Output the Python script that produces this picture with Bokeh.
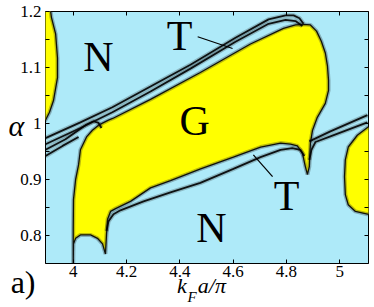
from bokeh.plotting import figure
from bokeh.models import (ColumnDataSource, FixedTicker, LinearAxis,
                          CustomJSTickFormatter, Range1d)
from bokeh.core.properties import value
from bokeh.embed import file_html
from bokeh.resources import INLINE

# ---------------- data ----------------
x_ticks = [4.0, 4.2, 4.4, 4.6, 4.8, 5.0]
y_ticks = [0.8, 0.9, 1.0, 1.1, 1.2]
y_minor = [0.75, 0.85, 0.95, 1.05, 1.15]

# central G (yellow) region boundary
g_x = [4.000, 4.000, 4.001, 4.009, 4.020, 4.027, 4.050, 4.072, 4.095, 4.132,
       4.148, 4.290, 4.477, 4.665, 4.789, 4.834, 4.864, 4.890, 4.913, 4.931,
       4.946, 4.954, 4.958, 4.958, 4.946, 4.916, 4.898, 4.890, 4.886, 4.879,
       4.871, 4.860, 4.841, 4.815, 4.778, 4.703, 4.601, 4.478, 4.365, 4.290,
       4.215, 4.159, 4.140, 4.129, 4.125, 4.121, 4.110, 4.091, 4.065, 4.027,
       4.009, 4.001]
g_y = [0.751, 0.811, 0.864, 0.900, 0.926, 0.953, 0.976, 0.988, 0.997, 1.006,
       1.009, 1.043, 1.091, 1.142, 1.170, 1.176, 1.177, 1.176, 1.165, 1.147,
       1.126, 1.103, 1.077, 1.059, 1.036, 1.011, 0.988, 0.965, 0.923, 0.909,
       0.923, 0.947, 0.960, 0.963, 0.965, 0.958, 0.940, 0.919, 0.898, 0.885,
       0.861, 0.848, 0.843, 0.829, 0.802, 0.767, 0.785, 0.795, 0.801, 0.801,
       0.795, 0.785]

# upper-left G region
gl_x = [3.880, 3.913, 3.918, 3.934, 3.941, 3.941, 3.926, 3.911, 3.896, 3.880]
gl_y = [1.210, 1.210, 1.190, 1.160, 1.117, 1.082, 1.041, 1.020, 1.006, 1.000]

# lower-right G region
gr_x = [5.120, 5.104, 5.066, 5.032, 5.021, 5.018, 5.021, 5.032, 5.059, 5.104, 5.120]
gr_y = [0.995, 0.993, 0.979, 0.958, 0.935, 0.905, 0.873, 0.855, 0.843, 0.838, 0.838]

# thin T-phase bands
a1_x = [3.896, 4.027, 4.147, 4.290, 4.440, 4.609, 4.733, 4.797, 4.827, 4.849, 4.864]
a1_y = [0.974, 1.002, 1.029, 1.066, 1.105, 1.153, 1.186, 1.193, 1.193, 1.188, 1.178]
a2_x = [3.896, 4.027, 4.147, 4.290, 4.440, 4.609, 4.733, 4.797, 4.834, 4.860]
a2_y = [0.963, 0.992, 1.020, 1.057, 1.098, 1.146, 1.178, 1.185, 1.183, 1.174]
b_x = [3.896, 3.971, 4.046, 4.076, 4.095, 4.106]
b_y = [0.953, 0.972, 0.997, 1.004, 1.001, 0.992]
c_x = [3.896, 3.960, 4.020]
c_y = [0.942, 0.960, 0.976]
l1_x = [4.125, 4.132, 4.151, 4.177, 4.264, 4.365, 4.477, 4.601, 4.703, 4.778, 4.822, 4.852, 4.867]
l1_y = [0.808, 0.825, 0.838, 0.845, 0.861, 0.877, 0.894, 0.919, 0.940, 0.953, 0.956, 0.953, 0.942]
r1_x = [4.886, 4.965, 5.104]
r1_y = [0.968, 0.986, 1.015]
r2_x = [4.886, 4.894, 4.909, 4.965, 5.104]
r2_y = [0.935, 0.953, 0.967, 0.977, 1.002]

# phase labels
phase_text = ["N", "T", "G", "T", "N"]
phase_x = [4.095, 4.399, 4.456, 4.801, 4.519]
phase_y = [1.118, 1.157, 1.005, 0.870, 0.813]

# pointer lines from the T labels
ptr_x0 = [4.467, 4.676]
ptr_y0 = [1.155, 0.944]
ptr_x1 = [4.598, 4.748]
ptr_y1 = [1.134, 0.905]

# axis texts
y_label = "α"
x_label_main = "k\u00a0\u00a0a/π"
x_label_sub = "F"
panel_tag = "a)"

BLUE = "#aeeaf9"
YELLOW = "#ffff00"
SERIF = "Liberation Serif"
NBSP = "\u00a0"

# ---------------- figure ----------------
p = figure(width=374, height=307,
           x_range=Range1d(3.896, 5.108), y_range=Range1d(0.75, 1.2),
           output_backend="svg", toolbar_location=None,
           min_border_left=45, min_border_right=6,
           min_border_top=11, min_border_bottom=43)
p.background_fill_color = BLUE
p.border_fill_color = "white"
p.outline_line_color = "black"
p.outline_line_width = 1
p.xgrid.visible = False
p.ygrid.visible = False

fmt = CustomJSTickFormatter(code="""
const r = Math.round(tick);
return Math.abs(tick - r) < 1e-6 ? r.toString() : tick.toFixed(1);
""")
blank = CustomJSTickFormatter(code="return '';")
has_orient = "axis_label_orientation" in LinearAxis.properties()

xa = p.xaxis[0]
xa.ticker = FixedTicker(ticks=x_ticks)
ya = p.yaxis[0]
ya.ticker = FixedTicker(ticks=y_ticks, minor_ticks=y_minor)
for ax in (xa, ya):
    ax.formatter = fmt
    ax.axis_line_color = None
    ax.major_tick_in = 4
    ax.major_tick_out = 0
    ax.minor_tick_in = 4
    ax.minor_tick_out = 0
    ax.major_tick_line_color = "black"
    ax.minor_tick_line_color = "black"
    ax.major_label_text_font = SERIF
    ax.major_label_text_font_size = "17px"
    ax.major_label_text_color = "black"
    ax.axis_label_text_font = SERIF
    ax.axis_label_text_font_style = "italic"
    ax.axis_label_text_color = "black"
xa.major_label_standoff = 2
ya.major_label_standoff = 4

# x label  k_F a/pi  (main part; trailing spaces shift it a little left)
xa.axis_label = x_label_main + NBSP * 2
xa.axis_label_text_font_size = "22px"
xa.axis_label_standoff = -7

# y label alpha, horizontal, raised a little by an empty second line
ya.axis_label = y_label + "\n"
ya.axis_label_text_font_size = "30px"
ya.axis_label_text_line_height = 0.75
ya.axis_label_standoff = -7
if has_orient:
    ya.axis_label_orientation = "horizontal"

top = LinearAxis(ticker=FixedTicker(ticks=x_ticks), formatter=blank,
                 axis_line_color=None, major_tick_in=4, major_tick_out=0,
                 minor_tick_in=0, minor_tick_out=0, major_label_standoff=0,
                 major_label_text_font_size="0px", major_label_text_color=None)
right = LinearAxis(ticker=FixedTicker(ticks=y_ticks, minor_ticks=y_minor), formatter=blank,
                   axis_line_color=None, major_tick_in=4, major_tick_out=0,
                   minor_tick_in=4, minor_tick_out=0, major_label_standoff=0,
                   major_label_text_font_size="0px", major_label_text_color=None)
p.add_layout(top, "above")
p.add_layout(right, "right")

# subscript F of k_F: a tickless axis whose label sits under the main label
sub = LinearAxis(ticker=FixedTicker(ticks=[]), formatter=blank,
                 axis_line_color=None, major_tick_in=0, major_tick_out=0,
                 minor_tick_in=0, minor_tick_out=0, major_label_standoff=0,
                 major_label_text_color=None,
                 axis_label=x_label_sub + NBSP * 8, axis_label_text_font=SERIF,
                 axis_label_text_font_size="15px", axis_label_text_font_style="italic",
                 axis_label_text_color="black", axis_label_standoff=-12)
p.add_layout(sub, "below")

# panel tag "a)": tickless left axis, label pushed down by an empty first line
tag = LinearAxis(ticker=FixedTicker(ticks=[]), formatter=blank,
                 axis_line_color=None, major_tick_in=0, major_tick_out=0,
                 minor_tick_in=0, minor_tick_out=0, major_label_standoff=0,
                 major_label_text_color=None,
                 axis_label="\n" + panel_tag, axis_label_text_font=SERIF,
                 axis_label_text_font_size="32px", axis_label_text_font_style="normal",
                 axis_label_text_color="black", axis_label_text_line_height=8.0,
                 axis_label_standoff=-30)
if has_orient:
    tag.axis_label_orientation = "horizontal"
p.add_layout(tag, "left")

# yellow regions
for xs, ys in ((g_x, g_y), (gl_x, gl_y), (gr_x, gr_y)):
    p.patch(xs, ys, fill_color=YELLOW, line_color=None)
    p.patch(xs, ys, fill_color=None, line_color="#222222", line_width=4, line_alpha=0.3)
    p.patch(xs, ys, fill_color=None, line_color="black", line_width=1.3, line_alpha=0.9)

# T bands
for xs, ys in ((a1_x, a1_y), (a2_x, a2_y), (b_x, b_y), (c_x, c_y),
               (l1_x, l1_y), (r1_x, r1_y), (r2_x, r2_y)):
    p.line(xs, ys, line_color="#222222", line_width=4.5, line_alpha=0.25)
    p.line(xs, ys, line_color="black", line_width=1.8, line_alpha=0.9)

# pointers
p.segment(x0=ptr_x0, y0=ptr_y0, x1=ptr_x1, y1=ptr_y1, line_color="black", line_width=1.2)

src = ColumnDataSource(dict(x=phase_x, y=phase_y, t=phase_text))
p.text(x="x", y="y", text="t", source=src, text_font=value(SERIF),
       text_font_size="42px", text_align="center", text_baseline="alphabetic",
       text_color="black")

open("out.html", "w").write(file_html(p, INLINE))
